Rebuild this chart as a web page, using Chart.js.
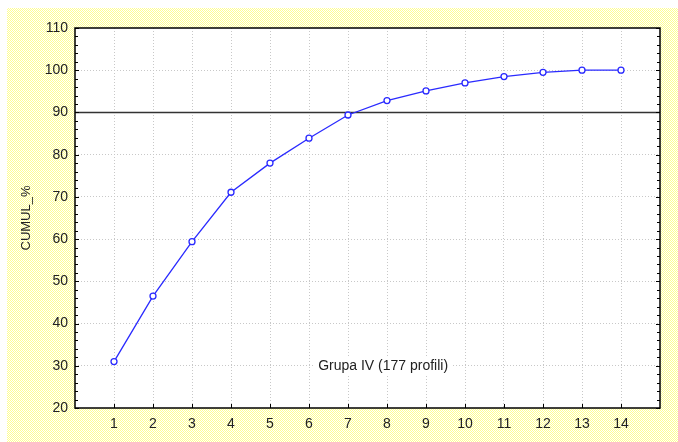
<!DOCTYPE html>
<html>
<head>
<meta charset="utf-8">
<script src="https://cdn.jsdelivr.net/npm/chart.js@4"></script>
<style>
  html, body { margin: 0; padding: 0; background: #fff; }
  #wrap { width: 678px; height: 442px; }
</style>
</head>
<body>
<div id="wrap"><canvas id="chart" width="678" height="442"></canvas></div>
<script>
// data
const groups = [1, 2, 3, 4, 5, 6, 7, 8, 9, 10, 11, 12, 13, 14];
const cumul = [31.0, 46.5, 59.4, 71.1, 78.0, 83.9, 89.4, 92.8, 95.1, 97.0, 98.5, 99.5, 100, 100];
const refLevel = 90;
const yTicks = [20, 30, 40, 50, 60, 70, 80, 90, 100, 110];
const note = "Grupa IV (177 profili)";

const FONT = "'Liberation Sans', Arial, sans-serif";

// yellow dotted background like the original window
function makePattern(ctx) {
  const p = document.createElement("canvas");
  p.width = 2; p.height = 2;
  const c = p.getContext("2d");
  c.fillStyle = "#ffffff";
  c.fillRect(0, 0, 2, 2);
  c.fillStyle = "#ffff90";
  c.fillRect(0, 0, 1, 1);
  c.fillRect(1, 1, 1, 1);
  return ctx.createPattern(p, "repeat");
}

const backdrop = {
  id: "backdrop",
  beforeDraw(chart) {
    const { ctx, chartArea: a, width, height } = chart;
    ctx.save();
    ctx.fillStyle = "#fff";
    ctx.fillRect(0, 0, width, height);
    ctx.fillStyle = makePattern(ctx);
    ctx.fillRect(7, 8, width - 7, height - 8);
    ctx.fillStyle = "#fff";
    ctx.fillRect(a.left, a.top, a.right - a.left, a.bottom - a.top);
    ctx.restore();
  }
};

const frame = {
  id: "frame",
  beforeDatasetsDraw(chart) {
    const { ctx, scales } = chart;
    const x = scales.x, y = scales.y;
    ctx.save();
    // note text with white box
    ctx.font = "14px " + FONT;
    ctx.textAlign = "center";
    ctx.textBaseline = "middle";
    const tx = x.getPixelForValue(7.9), ty = y.getPixelForValue(29.8);
    const w = ctx.measureText(note).width;
    ctx.fillStyle = "#fff";
    ctx.fillRect(tx - w / 2 - 4, ty - 9, w + 8, 18);
    ctx.fillStyle = "#222";
    ctx.fillText(note, tx, ty);
    ctx.restore();
  },
  afterDraw(chart) {
    const { ctx, chartArea: a, scales } = chart;
    const x = scales.x, y = scales.y;
    ctx.save();
    ctx.strokeStyle = "#000";
    ctx.lineWidth = 1;
    ctx.beginPath();
    // minor + major ticks on left and right, pointing inwards
    for (let v = 20; v <= 110; v += 2) {
      const py = Math.round(y.getPixelForValue(v)) + 0.5;
      const len = v % 10 === 0 ? 4 : 3;
      ctx.moveTo(a.left, py); ctx.lineTo(a.left + len, py);
      ctx.moveTo(a.right, py); ctx.lineTo(a.right - len, py);
    }
    // ticks on bottom
    for (const g of groups) {
      const px = Math.round(x.getPixelForValue(g)) + 0.5;
      ctx.moveTo(px, a.bottom); ctx.lineTo(px, a.bottom - 4);
    }
    ctx.stroke();
    ctx.lineWidth = 1.5;
    ctx.strokeRect(a.left, a.top, a.right - a.left, a.bottom - a.top);
    ctx.restore();
  }
};

new Chart(document.getElementById("chart"), {
  type: "line",
  data: {
    datasets: [
      {
        data: groups.map((g, i) => ({ x: g, y: cumul[i] })),
        borderColor: "#2a2aff",
        borderWidth: 1.3,
        pointRadius: 3,
        pointBorderWidth: 1.3,
        pointBorderColor: "#2a2aff",
        pointBackgroundColor: "#fff",
        tension: 0
      },
      {
        data: [{ x: 0, y: refLevel }, { x: 15, y: refLevel }],
        borderColor: "#333",
        borderWidth: 1.5,
        pointRadius: 0
      }
    ]
  },
  options: {
    responsive: false,
    animation: false,
    layout: { padding: { left: 0, top: 28, right: 18, bottom: 0 } },
    plugins: {
      legend: { display: false },
      tooltip: { enabled: false }
    },
    scales: {
      x: {
        type: "linear",
        min: 0,
        max: 15,
        afterBuildTicks: (s) => { s.ticks = groups.map(v => ({ value: v })); },
        afterFit: (s) => { s.height = 34; },
        grid: { color: "#c8c8c8", drawTicks: false },
        border: { display: false, dash: [1, 2] },
        ticks: {
          color: "#222",
          padding: 8,
          maxRotation: 0,
          font: { family: FONT, size: 14 }
        }
      },
      y: {
        min: 20,
        max: 110,
        afterBuildTicks: (s) => { s.ticks = yTicks.map(v => ({ value: v })); },
        afterFit: (s) => { s.width = 75; },
        grid: {
          color: (c) => (c.tick && (c.tick.value === 20 || c.tick.value === 110)) ? "rgba(0,0,0,0)" : "#c8c8c8",
          drawTicks: false
        },
        border: { display: false, dash: [1, 2] },
        title: {
          display: true,
          text: "CUMUL_%",
          color: "#222",
          padding: { top: 19, bottom: 0 },
          font: { family: FONT, size: 13 }
        },
        ticks: {
          color: "#222",
          padding: 7,
          font: { family: FONT, size: 14 }
        }
      }
    }
  },
  plugins: [backdrop, frame]
});
</script>
</body>
</html>
